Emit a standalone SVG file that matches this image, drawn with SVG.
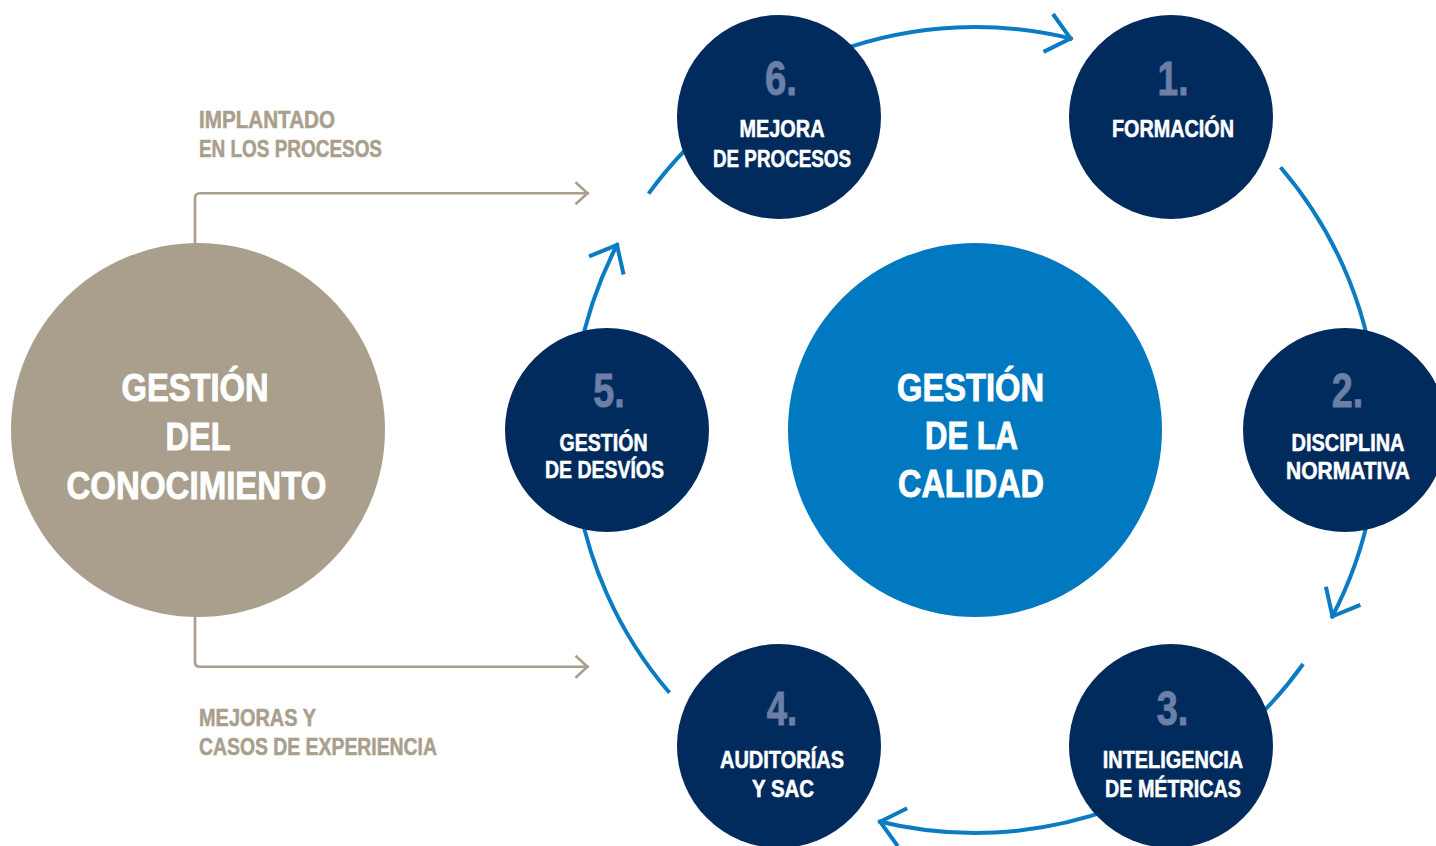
<svg xmlns="http://www.w3.org/2000/svg" width="1436" height="846" viewBox="0 0 1436 846">
<style>
.t{font-family:'Liberation Sans',Arial,sans-serif;font-weight:bold;text-anchor:middle}
.big{font-size:39px;fill:#ffffff;stroke:#ffffff;stroke-width:0.9}
.num{font-size:48px;fill:#6b7fa7;stroke:#6b7fa7;stroke-width:0.9}
.lbl{font-size:24px;fill:#ffffff;stroke:#ffffff;stroke-width:0.55}
.side{font-family:'Liberation Sans',Arial,sans-serif;font-weight:bold;font-size:24.5px;fill:#a99f8c;stroke:#a99f8c;stroke-width:0.55}
.node{fill:#002b5c}
.ring{fill:none;stroke:#0b7bc2;stroke-width:4}
.gray{fill:none;stroke:#a99f8c;stroke-width:2.6}
</style>
<defs>
<marker id="ab" markerUnits="userSpaceOnUse" markerWidth="60" markerHeight="60" viewBox="-30 -30 60 60" refX="0" refY="0" orient="auto" overflow="visible">
<path d="M -25 -19.5 L -2 0 L -25 19.5" fill="none" stroke="#0b7bc2" stroke-width="4"/>
</marker>
<marker id="ag" markerUnits="userSpaceOnUse" markerWidth="30" markerHeight="30" viewBox="-15 -15 30 30" refX="0" refY="0" orient="auto" overflow="visible">
<path d="M -13.5 -11 L -1.5 0 L -13.5 11" fill="none" stroke="#a99f8c" stroke-width="2.6"/>
</marker>
</defs>
<rect width="1436" height="846" fill="#ffffff"/>
<g id="connectors">
<path class="ring" d="M 648.6 193.7 A 403 403 0 0 1 1072.5 39.0" marker-end="url(#ab)"/>
<path class="ring" d="M 1280.5 167.2 A 403 403 0 0 1 1331.5 618.0" marker-end="url(#ab)"/>
<path class="ring" d="M 1303.1 664.0 A 403 403 0 0 1 878.2 821.2" marker-end="url(#ab)"/>
<path class="ring" d="M 669.5 692.8 A 403 403 0 0 1 617.9 243.3" marker-end="url(#ab)"/>
<path class="gray" d="M 195 245 V 198.3 Q 195 193.3 200 193.3 H 589" marker-end="url(#ag)"/>
<path class="gray" d="M 195 615 V 661.7 Q 195 666.7 200 666.7 H 589" marker-end="url(#ag)"/>
</g>
<g id="label-implantado">
<text class="side" x="199" y="128" textLength="136" lengthAdjust="spacingAndGlyphs">IMPLANTADO</text>
<text class="side" x="199" y="157" textLength="183" lengthAdjust="spacingAndGlyphs">EN LOS PROCESOS</text>
</g>
<g id="label-mejoras">
<text class="side" x="199" y="726" textLength="117" lengthAdjust="spacingAndGlyphs">MEJORAS Y</text>
<text class="side" x="199" y="754.5" textLength="238" lengthAdjust="spacingAndGlyphs">CASOS DE EXPERIENCIA</text>
</g>
<g id="conocimiento">
<circle cx="198" cy="430" r="187" fill="#a99f8c"/>
<text class="t big" x="195" y="401" textLength="147" lengthAdjust="spacingAndGlyphs">GESTIÓN</text>
<text class="t big" x="198" y="450" textLength="65" lengthAdjust="spacingAndGlyphs">DEL</text>
<text class="t big" x="196.5" y="498.5" textLength="260" lengthAdjust="spacingAndGlyphs">CONOCIMIENTO</text>
</g>
<g id="calidad">
<circle cx="975" cy="430" r="187" fill="#0079c1"/>
<text class="t big" x="970.5" y="401" textLength="147" lengthAdjust="spacingAndGlyphs">GESTIÓN</text>
<text class="t big" x="971.5" y="449" textLength="93" lengthAdjust="spacingAndGlyphs">DE LA</text>
<text class="t big" x="971" y="497" textLength="146" lengthAdjust="spacingAndGlyphs">CALIDAD</text>
</g>
<g id="n1">
<circle class="node" cx="1171" cy="117" r="102"/>
<text class="t num" x="1173" y="95" textLength="31" lengthAdjust="spacingAndGlyphs">1.</text>
<text class="t lbl" x="1173" y="137.3" textLength="122" lengthAdjust="spacingAndGlyphs">FORMACIÓN</text>
</g>
<g id="n2">
<circle class="node" cx="1345" cy="430" r="102"/>
<text class="t num" x="1347.5" y="406.7" textLength="31.5" lengthAdjust="spacingAndGlyphs">2.</text>
<text class="t lbl" x="1348" y="450.5" textLength="113" lengthAdjust="spacingAndGlyphs">DISCIPLINA</text>
<text class="t lbl" x="1348" y="478.5" textLength="124" lengthAdjust="spacingAndGlyphs">NORMATIVA</text>
</g>
<g id="n3">
<circle class="node" cx="1171" cy="746" r="102"/>
<text class="t num" x="1172.5" y="725" textLength="31.5" lengthAdjust="spacingAndGlyphs">3.</text>
<text class="t lbl" x="1173" y="767.7" textLength="140.5" lengthAdjust="spacingAndGlyphs">INTELIGENCIA</text>
<text class="t lbl" x="1173" y="796.7" textLength="136" lengthAdjust="spacingAndGlyphs">DE MÉTRICAS</text>
</g>
<g id="n4">
<circle class="node" cx="779" cy="746" r="102"/>
<text class="t num" x="782" y="725" textLength="30.5" lengthAdjust="spacingAndGlyphs">4.</text>
<text class="t lbl" x="782" y="768.3" textLength="124" lengthAdjust="spacingAndGlyphs">AUDITORÍAS</text>
<text class="t lbl" x="783" y="796.7" textLength="62" lengthAdjust="spacingAndGlyphs">Y SAC</text>
</g>
<g id="n5">
<circle class="node" cx="607" cy="430" r="102"/>
<text class="t num" x="609" y="406.7" textLength="31.5" lengthAdjust="spacingAndGlyphs">5.</text>
<text class="t lbl" x="603.5" y="450.7" textLength="88" lengthAdjust="spacingAndGlyphs">GESTIÓN</text>
<text class="t lbl" x="604.5" y="478.3" textLength="119" lengthAdjust="spacingAndGlyphs">DE DESVÍOS</text>
</g>
<g id="n6">
<circle class="node" cx="779" cy="117" r="102"/>
<text class="t num" x="781" y="95" textLength="32" lengthAdjust="spacingAndGlyphs">6.</text>
<text class="t lbl" x="782" y="137.3" textLength="85" lengthAdjust="spacingAndGlyphs">MEJORA</text>
<text class="t lbl" x="782" y="167.3" textLength="138" lengthAdjust="spacingAndGlyphs">DE PROCESOS</text>
</g>
</svg>
